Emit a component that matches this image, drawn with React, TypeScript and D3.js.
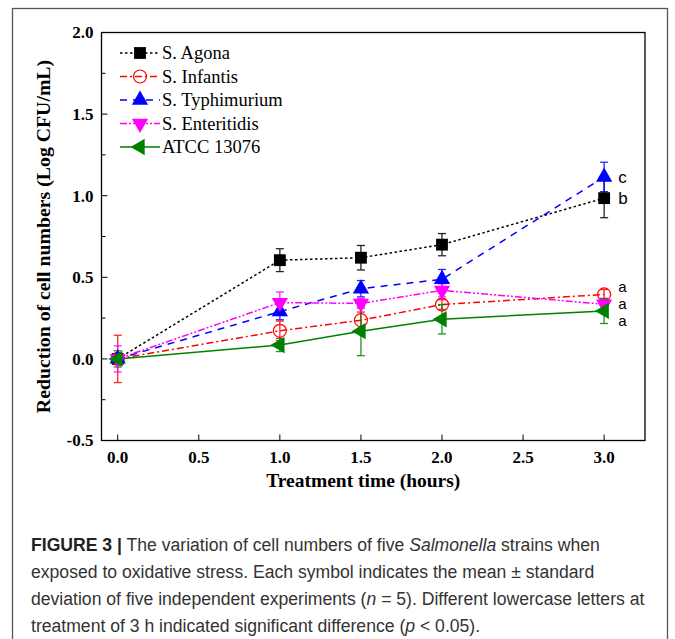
import React from "react";
import * as d3 from "d3";

const times = [0, 1, 1.5, 2, 3];
const seriesNames = ["S. Agona", "S. Infantis", "S. Typhimurium", "S. Enteritidis", "ATCC 13076"];
const agona = [0, 0.605, 0.62, 0.7, 0.985];
const agonaErr = [0.03, 0.07, 0.075, 0.068, 0.12];
const infantis = [0, 0.172, 0.237, 0.333, 0.395];
const infantisErr = [0.145, 0.06, 0.05, 0.03, 0.03];
const typhimurium = [0, 0.29, 0.43, 0.488, 1.115];
const typhimuriumErr = [0.03, 0.05, 0.05, 0.06, 0.09];
const enteritidis = [0, 0.345, 0.34, 0.42, 0.335];
const enteritidisErr = [0.08, 0.065, 0.03, 0.04, 0.03];
const atcc = [0, 0.085, 0.17, 0.243, 0.294];
const atccErr = [0.05, 0.04, 0.15, 0.09, 0.077];
const sigLetters = ["c", "b", "a", "a", "a"];
const sigY = [1.115, 0.985, 0.445, 0.34, 0.235];
const xTicks = [0, 0.5, 1, 1.5, 2, 2.5, 3];
const yTicks = [-0.5, 0, 0.5, 1, 1.5, 2];
const yMinorTicks = [-0.25, 0.25, 0.75, 1.25, 1.75];

const styles = [
  { color: "#000000", dash: "2.5,2.5", marker: "square", fill: "#000000" },
  { color: "#ff0000", dash: "7,3,2,3", marker: "circle", fill: "none" },
  { color: "#0000ff", dash: "7,6", marker: "triangleUp", fill: "#0000ff" },
  { color: "#ff00ff", dash: "7,2,2,2,2,2", marker: "triangleDown", fill: "#ff00ff" },
  { color: "#008000", dash: "none", marker: "triangleLeft", fill: "#008000" },
];

const values = [agona, infantis, typhimurium, enteritidis, atcc];
const errors = [agonaErr, infantisErr, typhimuriumErr, enteritidisErr, atccErr];

const W = 675, H = 639;
const plotL = 101.5, plotR = 645, plotT = 32.5, plotB = 440.5;
const x = d3.scaleLinear().domain([-0.1, 3.252]).range([plotL, plotR]);
const y = d3.scaleLinear().domain([-0.5, 2.0]).range([plotB, plotT]);
const fmt = (t: number) => t.toFixed(1);

function Marker({ kind, cx, cy, color, fill }: any) {
  if (kind === "circle") {
    return <circle cx={cx} cy={cy} r={6.5} fill="none" stroke={color} strokeWidth={1.2} />;
  }
  if (kind === "square") {
    const p = d3.symbol().type(d3.symbolSquare).size(140)()!;
    return <path d={p} transform={`translate(${cx},${cy})`} fill={fill} />;
  }
  const p = d3.symbol().type(d3.symbolTriangle).size(115)()!;
  const rot = kind === "triangleUp" ? 0 : kind === "triangleDown" ? 180 : -90;
  return <path d={p} transform={`translate(${cx},${cy}) rotate(${rot})`} fill={fill} />;
}

export default function App() {
  const line = d3
    .line<number>()
    .x((_, i) => x(times[i]))
    .y((d) => y(d));
  const serif = "'Liberation Serif', 'Times New Roman', serif";
  const sans = "'Liberation Sans', Arial, sans-serif";
  return (
    <svg width={W} height={H} style={{ position: "absolute", left: 0, top: 0, background: "#fff" }}>
      <rect x={12.5} y={8.5} width={655} height={640} fill="none" stroke="#555" strokeWidth={1.3} />
      <rect x={plotL} y={plotT} width={plotR - plotL} height={plotB - plotT} fill="none" stroke="#000" strokeWidth={1.3} />
      {yTicks.map((t) => (
        <g key={"y" + t}>
          <line x1={plotL} x2={plotL + 6} y1={y(t)} y2={y(t)} stroke="#000" strokeWidth={1} />
          <text x={plotL - 8} y={y(t)} dy="0.35em" textAnchor="end" fontFamily={serif} fontWeight="bold" fontSize={17}>
            {fmt(t)}
          </text>
        </g>
      ))}
      {yMinorTicks.map((t) => (
        <line key={"ym" + t} x1={plotL} x2={plotL + 4} y1={y(t)} y2={y(t)} stroke="#000" strokeWidth={1} />
      ))}
      {xTicks.map((t) => (
        <g key={"x" + t}>
          <line x1={x(t)} x2={x(t)} y1={plotB} y2={plotB - 6} stroke="#000" strokeWidth={1} />
          <text x={x(t)} y={plotB + 22} textAnchor="middle" fontFamily={serif} fontWeight="bold" fontSize={17}>
            {fmt(t)}
          </text>
        </g>
      ))}
      <text x={(plotL + plotR) / 2 - 10} y={487} textAnchor="middle" fontFamily={serif} fontWeight="bold" fontSize={19.5}>
        Treatment time (hours)
      </text>
      <text
        transform={`translate(50,${(plotT + plotB) / 2}) rotate(-90)`}
        textAnchor="middle"
        fontFamily={serif}
        fontWeight="bold"
        fontSize={19.8}
      >
        Reduction of cell numbers (Log CFU/mL)
      </text>
      {values.map((v, si) => (
        <path
          key={"l" + si}
          d={line(v)!}
          fill="none"
          stroke={styles[si].color}
          strokeWidth={1.5}
          strokeDasharray={styles[si].dash}
        />
      ))}
      {values.map((v, si) =>
        v.map((val, i) => {
          const cx = x(times[i]);
          const y1 = y(val + errors[si][i]);
          const y2 = y(val - errors[si][i]);
          return (
            <g key={"e" + si + "-" + i} stroke={styles[si].color} strokeWidth={1.3} opacity={0.85}>
              <line x1={cx} x2={cx} y1={y1} y2={y2} />
              <line x1={cx - 4} x2={cx + 4} y1={y1} y2={y1} />
              <line x1={cx - 4} x2={cx + 4} y1={y2} y2={y2} />
            </g>
          );
        })
      )}
      {values.map((v, si) =>
        v.map((val, i) => (
          <Marker
            key={"m" + si + "-" + i}
            kind={styles[si].marker}
            cx={x(times[i])}
            cy={y(val)}
            color={styles[si].color}
            fill={styles[si].fill}
          />
        ))
      )}
      {sigLetters.map((l, i) => (
        <text key={"s" + i} x={x(3) + 14} y={y(sigY[i])} dy="0.35em" fontFamily={sans} fontSize={i < 2 ? 17 : 15}>
          {l}
        </text>
      ))}
      {seriesNames.map((name, si) => {
        const ly = 53 + si * 23.5;
        return (
          <g key={"lg" + si}>
            <line x1={120} x2={160} y1={ly} y2={ly} stroke={styles[si].color} strokeWidth={1.5} strokeDasharray={styles[si].dash} />
            <Marker kind={styles[si].marker} cx={140} cy={ly} color={styles[si].color} fill={styles[si].fill} />
            <text x={162} y={ly} dy="0.35em" fontFamily={serif} fontSize={18.5}>
              {name}
            </text>
          </g>
        );
      })}
      <text fontFamily={sans} fontSize={17.6} fill="#333">
        <tspan x={31} y={551}>
          <tspan fontWeight="bold" fill="#222">FIGURE 3 |</tspan> The variation of cell numbers of five <tspan fontStyle="italic">Salmonella</tspan> strains when
        </tspan>
        <tspan x={31} y={578}>exposed to oxidative stress. Each symbol indicates the mean ± standard</tspan>
        <tspan x={31} y={605}>
          deviation of five independent experiments (<tspan fontStyle="italic">n</tspan> = 5). Different lowercase letters at
        </tspan>
        <tspan x={31} y={632}>
          treatment of 3 h indicated significant difference (<tspan fontStyle="italic">p</tspan> {"<"} 0.05).
        </tspan>
      </text>
    </svg>
  );
}
